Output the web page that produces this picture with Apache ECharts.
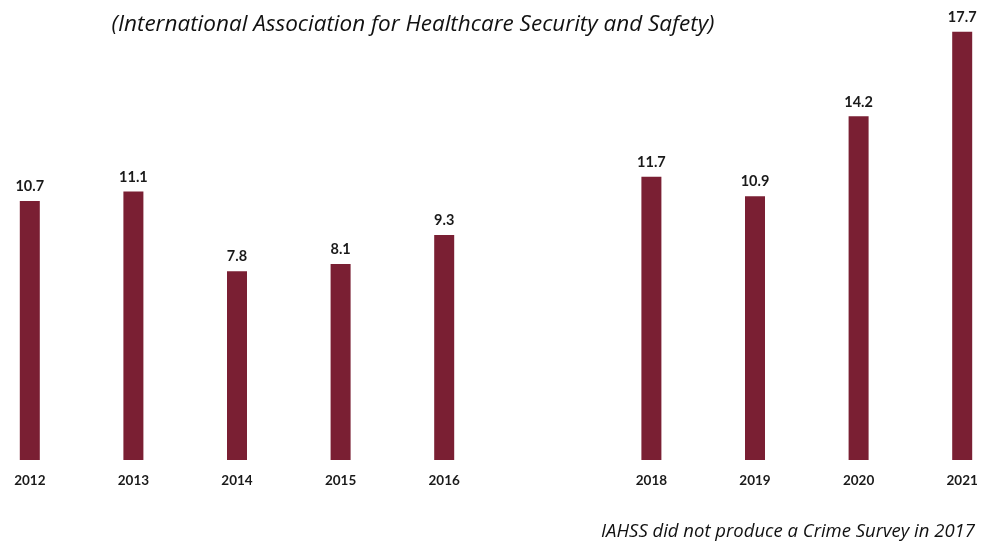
<!DOCTYPE html>
<html>
<head>
<meta charset="utf-8">
<script src="https://cdn.jsdelivr.net/npm/echarts@6/dist/echarts.min.js"></script>
<style>
  html, body { margin: 0; padding: 0; background: #ffffff; overflow: hidden; width: 996px; height: 546px; }
  /* the plot bleeds slightly past both page edges */
  #chart { position: absolute; left: -22px; top: 0; width: 1036px; height: 546px; }
</style>
</head>
<body>
<div id="chart"></div>
<script>
// Survey years (no survey was run in 2017, so that slot stays empty)
const years = ['2012', '2013', '2014', '2015', '2016', '2017', '2018', '2019', '2020', '2021'];
const rates = [10.7, 11.1, 7.8, 8.1, 9.3, null, 11.7, 10.9, 14.2, 17.7];
const yearLabels = ['2012', '2013', '2014', '2015', '2016', '', '2018', '2019', '2020', '2021'];

const subtitle = '(International Association for Healthcare Security and Safety)';
const footnote = 'IAHSS did not produce a Crime Survey in 2017';

const chart = echarts.init(document.getElementById('chart'));
chart.setOption({
  backgroundColor: '#ffffff',
  animation: false,
  title: [
    {
      text: subtitle,
      left: 430, top: 8, textAlign: 'center',
      textStyle: { fontFamily: 'Open Sans', fontStyle: 'italic', fontWeight: 'normal', fontSize: 22.5, color: '#111111' }
    },
    {
      text: footnote,
      right: 34, top: 517,
      textStyle: { fontFamily: 'Open Sans', fontStyle: 'italic', fontWeight: 'normal', fontSize: 18.5, color: '#111111' }
    }
  ],
  grid: { left: 0, right: 0, top: 24.4, bottom: 86, containLabel: false },
  xAxis: {
    type: 'category',
    data: years,
    axisLine: { show: false },
    axisTick: { show: false },
    axisLabel: {
      margin: 14,
      fontFamily: 'Lato', fontWeight: 'bold', fontSize: 13.5, color: '#1a1a1a',
      formatter: (v, i) => yearLabels[i]
    }
  },
  yAxis: {
    type: 'value', min: 0, max: 18,
    show: false, splitLine: { show: false }
  },
  series: [{
    type: 'bar',
    data: rates,
    barWidth: 20,
    itemStyle: { color: '#7a1f33' },
    label: {
      show: true, position: 'top', distance: 7,
      fontFamily: 'Lato', fontWeight: 'bold', fontSize: 14.5, color: '#1a1a1a',
      formatter: p => p.value.toFixed(1)
    }
  }]
});
</script>
</body>
</html>
